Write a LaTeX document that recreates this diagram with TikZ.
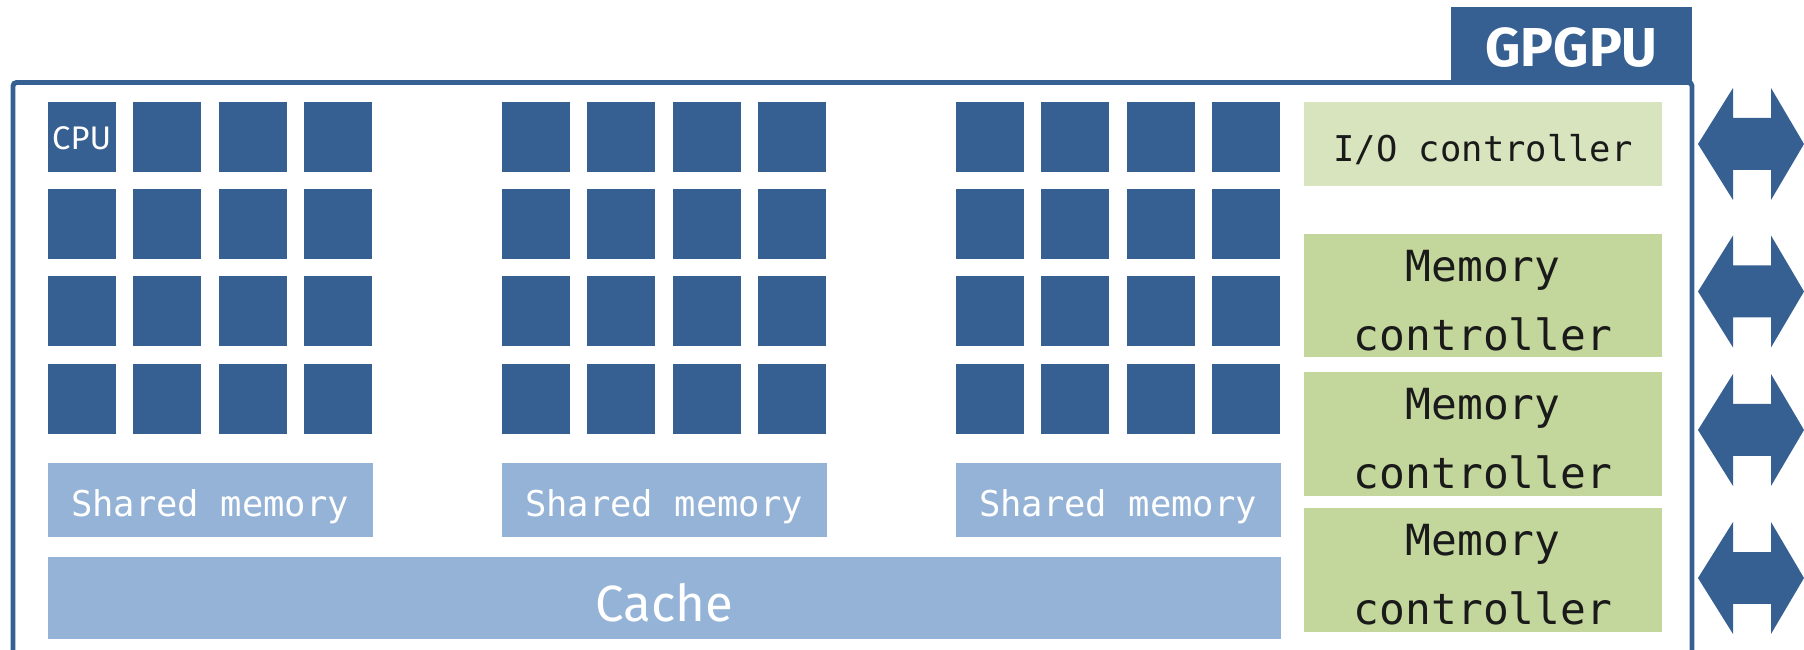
\documentclass[tikz,border=0pt]{standalone}
\usepackage{fontspec}
\setsansfont{Fira Sans}
\setmonofont{DejaVu Sans Mono}
\usepackage{tikz}
\usetikzlibrary{backgrounds}
\definecolor{colorCPU}{HTML}{366092}
\definecolor{colorSHM}{HTML}{95B3D7}
\definecolor{colorIO}{HTML}{D7E4BD}
\definecolor{colorMC}{HTML}{C3D69B}
\definecolor{colorTXT}{HTML}{1A1A1A}
\tikzset{
   cpubox/.style={fill=colorCPU,inner sep=0pt,minimum width=0.68cm,minimum height=0.70cm,
     text=white,text height=0.32cm,text depth=0.06cm,font=\sffamily\fontsize{9.3}{11}\selectfont},
   shmbox/.style={fill=colorSHM,inner sep=0pt,minimum width=3.25cm,minimum height=0.74cm,
     text=white,text height=0.40cm,text depth=0.06cm,font=\ttfamily\fontsize{10.1}{12}\selectfont},
   cachebox/.style={fill=colorSHM,inner sep=0pt,minimum width=12.335cm,minimum height=0.82cm,
     text=white,text height=0.52cm,text depth=0.06cm,font=\sffamily\fontsize{14.5}{17}\selectfont},
   iobox/.style={fill=colorIO,inner sep=0pt,minimum width=3.58cm,minimum height=0.84cm,
     text=colorTXT,text height=0.42cm,text depth=0.06cm,font=\ttfamily\fontsize{10.1}{12}\selectfont},
   mcbox/.style={fill=colorMC,inner sep=0pt,minimum width=3.58cm,minimum height=1.235cm,
     text=colorTXT,align=center,font=\ttfamily\fontsize{12.2}{19.6}\selectfont},
   gpubox/.style={fill=colorCPU,inner sep=0pt,minimum width=2.41cm,minimum height=0.76cm,
     text=white,text height=0.50cm,text depth=0.06cm,font=\sffamily\bfseries\fontsize{15.6}{18}\selectfont},
   chipframe/.style={draw=colorCPU,line width=1.4pt,rounded corners=1pt},
   ioarrow/.style={fill=colorCPU},
}
\newcommand{\mctxt}{\rule{0pt}{4.1mm}Memory\\controller}

\begin{document}
\begin{tikzpicture}

  \useasboundingbox (0,0) rectangle (18.04,-6.50);

  \draw[chipframe] (0.13,-6.7) -- (0.13,-0.825) -- (16.92,-0.825) -- (16.92,-6.7);
  \node[gpubox] (gpu) at (15.715,-0.45) {GPGPU};

  %% three clusters of 4x4 cores
  \foreach \g in {0,1,2} {
    \foreach \r in {0,1,2,3} {
      \foreach \c in {0,1,2,3} {
        \node[cpubox] (c\g\r\c) at ({0.817+4.54*\g+0.855*\c}, {-1.37-0.872*\r}) {};
      }
    }
    \node[shmbox] (shm\g) at ({2.10+4.54*\g}, -5.00) {Shared memory};
  }
  \node[cpubox] at (c000) {CPU};

  \node[cachebox] (cache) at (6.6425,-5.98) {Cache};

  \node[iobox] (io)   at (14.83,-1.44)  {I/O controller};
  \node[mcbox] (mem1) at (14.83,-2.955) {\mctxt};
  \node[mcbox] (mem2) at (14.83,-4.34)  {\mctxt};
  \node[mcbox] (mem3) at (14.83,-5.70)  {\mctxt};

  \foreach \y [count=\k] in {1.44,2.915,4.30,5.78} {
    \coordinate (a\k) at (17.51,-\y);
    \fill[ioarrow,shift={(a\k)}] (-0.53,0) -- (-0.18,0.56) -- (-0.18,0.26) -- (0.20,0.26)
      -- (0.20,0.56) -- (0.53,0) -- (0.20,-0.56) -- (0.20,-0.26) -- (-0.18,-0.26)
      -- (-0.18,-0.56) -- cycle;
  }
\end{tikzpicture}
\end{document}
